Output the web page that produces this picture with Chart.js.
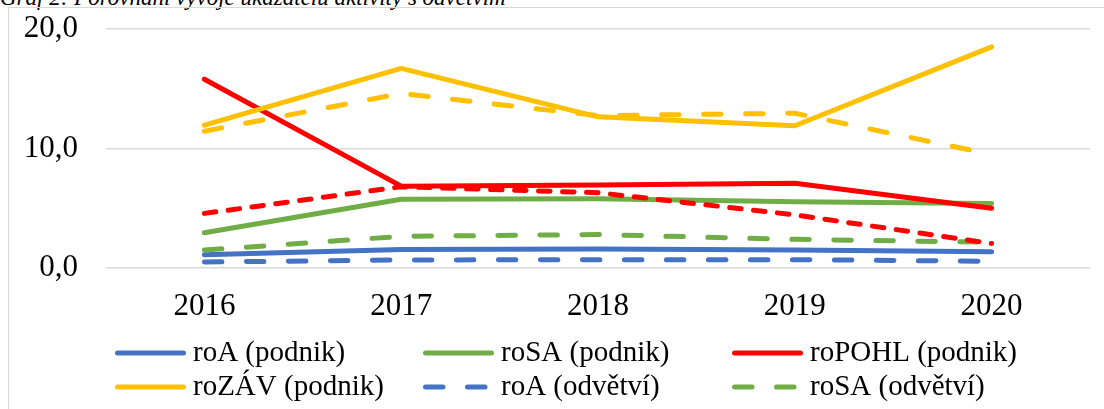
<!DOCTYPE html>
<html>
<head>
<meta charset="utf-8">
<script src="https://cdn.jsdelivr.net/npm/chart.js@4.4.1/dist/chart.umd.min.js"></script>
<style>
    html, body { margin: 0; padding: 0; background: #fff; width: 1104px; height: 409px; overflow: hidden; }
    #caption { position: absolute; left: 0; top: -14px; font: italic 23px "Liberation Serif", serif; line-height: 23px; white-space: nowrap; color: #000; }
    #frame { position: absolute; left: 8px; top: 7px; width: 1110px; height: 440px; border: 1px solid #d9d9d9; }
    #chartCanvas { display: block; }
</style>
</head>
<body>
<div id="caption">Graf 2: Porovnání vývoje ukazatelů aktivity s odvětvím</div>
<div id="frame"><canvas id="chartCanvas" width="1110" height="440"></canvas></div>
<script>
// years on the x axis
const years = ['2016', '2017', '2018', '2019', '2020'];
const yTicks = [0, 10, 20];

// company values (podnik)
const roA_podnik = [1.1, 1.55, 1.6, 1.5, 1.35];
const roSA_podnik = [2.95, 5.75, 5.8, 5.55, 5.4];
const roPOHL_podnik = [15.8, 6.85, 6.95, 7.1, 5.0];
const roZAV_podnik = [11.95, 16.7, 12.65, 11.9, 18.5];

// industry values (odvětví)
const roA_odvetvi = [0.5, 0.67, 0.7, 0.7, 0.56];
const roSA_odvetvi = [1.5, 2.65, 2.8, 2.4, 2.15];
const roPOHL_odvetvi = [4.57, 6.8, 6.3, 4.45, 2.05];
const roZAV_odvetvi = [11.45, 14.6, 12.75, 12.95, 9.5];

const BLUE = '#4472c4', GREEN = '#70ad47', RED = '#ff0000', YELLOW = '#ffc000';
const LONG_DASH = [17.5, 24.5];
const SHORT_DASH = [11.5, 12.5];

function series(label, data, color, dash) {
    return {
        label: label,
        data: data,
        borderColor: color,
        backgroundColor: color,
        borderWidth: 5,
        borderDash: dash || [],
        borderCapStyle: 'round',
        borderJoinStyle: 'round',
        pointRadius: 0,
        tension: 0,
        fill: false
    };
}

const datasets = [
    series('roA (podnik)', roA_podnik, BLUE),
    series('roSA (podnik)', roSA_podnik, GREEN),
    series('roPOHL (podnik)', roPOHL_podnik, RED),
    series('roZÁV (podnik)', roZAV_podnik, YELLOW),
    series('roA (odvětví)', roA_odvetvi, BLUE, LONG_DASH),
    series('roSA (odvětví)', roSA_odvetvi, GREEN, LONG_DASH),
    series('roPOHL (odvětví)', roPOHL_odvetvi, RED, SHORT_DASH),
    series('roZÁV (odvětví)', roZAV_odvetvi, YELLOW, LONG_DASH)
];
// later series on top, like the original
datasets.forEach((d, i) => { d.order = datasets.length - i; });

// legend drawn in fixed columns below the axis
const gridLegend = {
    id: 'gridLegend',
    afterDraw(chart) {
        const ctx = chart.ctx;
        const colX = [106, 414, 723];
        const rowY = [345, 379, 420];
        const sample = 71;
        ctx.save();
        ctx.font = '29px "Liberation Serif", serif';
        ctx.textBaseline = 'middle';
        ctx.textAlign = 'left';
        chart.data.datasets.forEach((ds, i) => {
            const x = colX[i % 3];
            const y = rowY[Math.floor(i / 3)];
            ctx.strokeStyle = ds.borderColor;
            ctx.lineWidth = ds.borderWidth;
            ctx.lineCap = 'round';
            ctx.setLineDash(ds.borderDash);
            ctx.beginPath();
            ctx.moveTo(x + 2.5, y);
            ctx.lineTo(x + sample - 2.5, y);
            ctx.stroke();
            ctx.setLineDash([]);
            ctx.fillStyle = '#000';
            ctx.fillText(ds.label, x + sample + 7, y);
        });
        ctx.restore();
    }
};

const ctx = document.getElementById('chartCanvas').getContext('2d');
new Chart(ctx, {
    type: 'line',
    data: { labels: years, datasets: datasets },
    options: {
        responsive: false,
        animation: false,
        layout: { padding: { top: 21, right: 29, bottom: 110, left: 0 } },
        plugins: { legend: { display: false }, tooltip: { enabled: false } },
        scales: {
            x: {
                offset: true,
                grid: { display: false, drawTicks: false },
                border: { display: false },
                ticks: { color: '#000', padding: 20, font: { family: 'Liberation Serif', size: 31 } },
                afterFit(scale) { scale.height = 70; scale.paddingLeft = 0; scale.paddingRight = 0; }
            },
            y: {
                min: 0,
                max: 20,
                afterBuildTicks(scale) { scale.ticks = yTicks.map(v => ({ value: v })); },
                grid: { color: '#d9d9d9', lineWidth: 1.5, drawTicks: false },
                border: { display: false },
                ticks: {
                    color: '#000',
                    padding: 28,
                    font: { family: 'Liberation Serif', size: 31 },
                    callback: v => v.toFixed(1).replace('.', ',')
                },
                afterFit(scale) { scale.width = 97; scale.paddingTop = 0; scale.paddingBottom = 0; }
            }
        }
    },
    plugins: [gridLegend]
});
</script>
</body>
</html>
